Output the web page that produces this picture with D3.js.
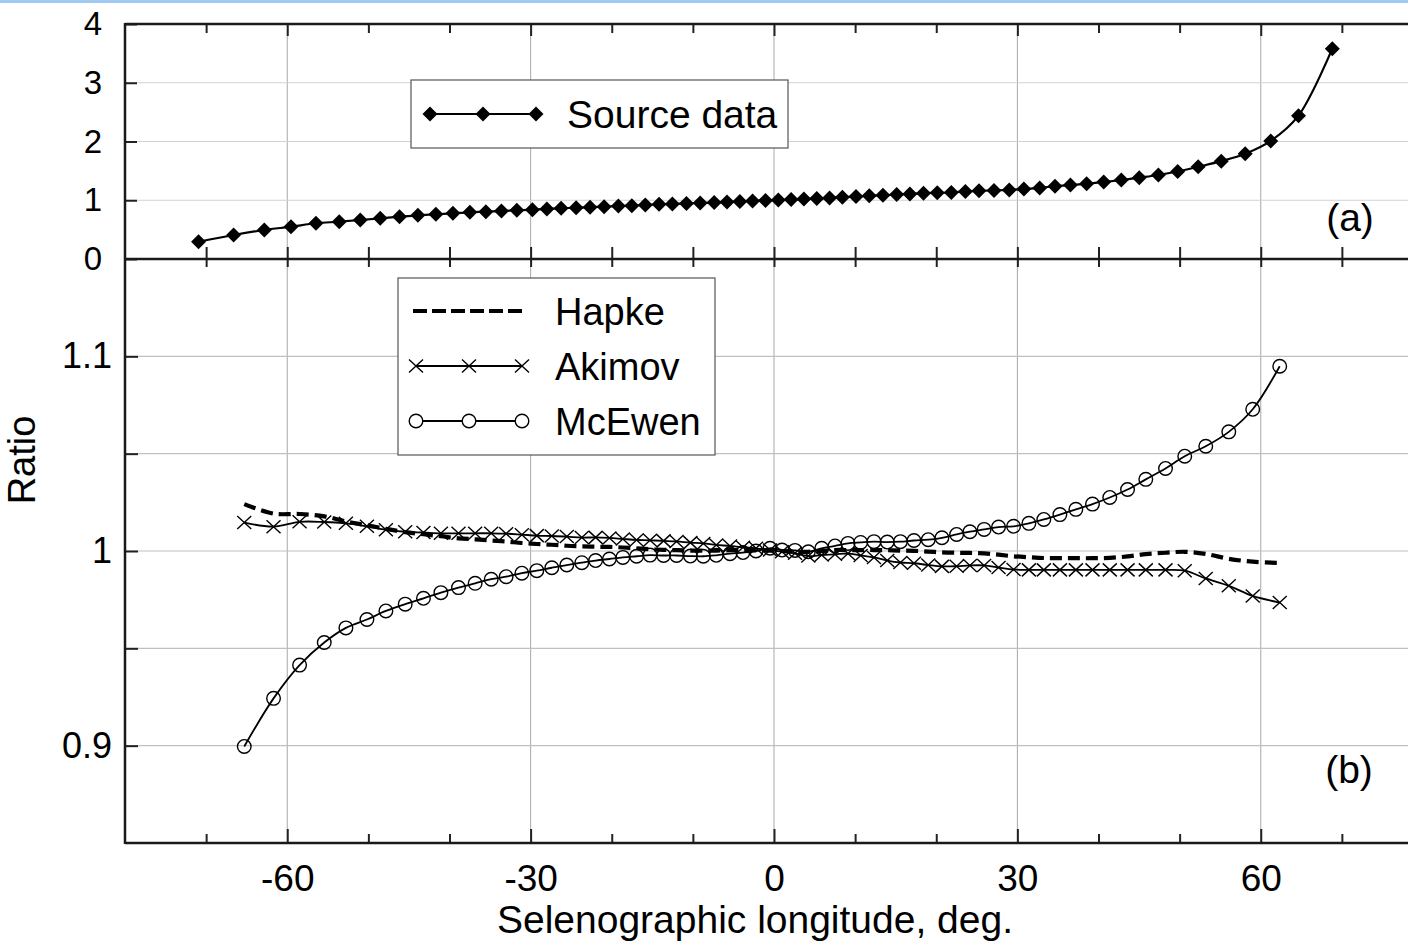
<!DOCTYPE html>
<html>
<head>
<meta charset="utf-8">
<script src="https://cdn.jsdelivr.net/npm/d3@7"></script>
<style>
  body { margin: 0; background: #fff; }
  svg text { font-family: "Liberation Sans", Arial, sans-serif; fill: #000; }
</style>
</head>
<body>
<div id="chart"></div>
<script>
// panel (a): source data
const lonA = [-70.93, -66.61, -62.83, -59.54, -56.46, -53.59, -51.0, -48.54, -46.16, -43.90,
    -41.68, -39.58, -37.49, -35.52, -33.60, -31.70, -29.78, -28.0, -26.24, -24.39,
    -22.67, -20.94, -19.18, -17.53, -15.86, -14.17, -12.53, -10.79, -9.10, -7.37,
    -5.79, -4.21, -2.64, -1.05, 0.53, 2.11, 3.68, 5.27, 6.85, 8.43,
    10.11, 11.74, 13.43, 15.12, 16.75, 18.43, 20.12, 21.86, 23.59, 25.27,
    27.12, 29.0, 30.8, 32.75, 34.64, 36.54, 38.54, 40.64, 42.81, 45.02,
    47.38, 49.76, 52.29, 55.13, 58.08, 61.23, 64.65, 68.82];
const sourceData = [0.294, 0.409, 0.494, 0.55, 0.608, 0.635, 0.664, 0.693, 0.72, 0.744,
    0.761, 0.778, 0.795, 0.805, 0.817, 0.829, 0.839, 0.851, 0.863, 0.873,
    0.88, 0.89, 0.902, 0.907, 0.919, 0.931, 0.936, 0.945, 0.952, 0.960,
    0.969, 0.979, 0.988, 0.996, 1.003, 1.012, 1.020, 1.029, 1.040, 1.052,
    1.063, 1.075, 1.086, 1.097, 1.108, 1.120, 1.126, 1.132, 1.149, 1.160,
    1.168, 1.175, 1.19, 1.21, 1.24, 1.26, 1.28, 1.31, 1.345, 1.385,
    1.43, 1.49, 1.57, 1.665, 1.79, 2.01, 2.44, 3.58];

// panel (b): ratios
const lonB = [-65.30, -61.69, -58.48, -55.44, -52.77, -50.18, -47.84, -45.46, -43.21, -41.06,
    -38.89, -36.84, -34.86, -33.02, -31.08, -29.24, -27.39, -25.54, -23.69, -21.99,
    -20.29, -18.63, -16.94, -15.28, -13.61, -12.01, -10.31, -8.71, -7.12, -5.42,
    -3.82, -2.22, -0.49, 0.99, 2.59, 4.23, 5.88, 7.52, 9.12, 10.68,
    12.32, 13.96, 15.58, 17.25, 19.01, 20.70, 22.51, 24.15, 25.90, 27.68,
    29.53, 31.42, 33.26, 35.24, 37.21, 39.26, 41.39, 43.58, 45.83, 48.26,
    50.63, 53.22, 56.06, 59.01, 62.34];
const mcewen = [0.8996, 0.9243, 0.9414, 0.9530, 0.9605, 0.9648, 0.9692, 0.9727, 0.9757, 0.9786,
    0.9812, 0.9834, 0.9855, 0.9868, 0.9886, 0.9899, 0.9914, 0.9928, 0.9940, 0.9951,
    0.9959, 0.9967, 0.9973, 0.9979, 0.9977, 0.9977, 0.9974, 0.9973, 0.9978, 0.9986,
    0.9992, 1.0000, 1.0014, 1.0005, 1.0003, 0.9996, 1.0014, 1.0026, 1.0039, 1.0044,
    1.0048, 1.0046, 1.0048, 1.0054, 1.0058, 1.0068, 1.0085, 1.0099, 1.0111, 1.0123,
    1.0127, 1.0142, 1.0162, 1.0187, 1.0214, 1.0241, 1.0275, 1.0316, 1.0368, 1.0424,
    1.0487, 1.0538, 1.0612, 1.0728, 1.0949];
const akimov = [1.0146, 1.0125, 1.0150, 1.0149, 1.0142, 1.0127, 1.0109, 1.0099, 1.0095, 1.0091,
    1.0091, 1.0091, 1.0091, 1.0089, 1.0084, 1.0079, 1.0077, 1.0074, 1.0069, 1.0070,
    1.0067, 1.0062, 1.0057, 1.0055, 1.0052, 1.0049, 1.0043, 1.0039, 1.0031, 1.0026,
    1.0019, 1.0014, 1.0005, 0.9996, 0.9988, 0.9974, 0.9979, 0.9983, 0.9987, 0.9977,
    0.9967, 0.9951, 0.9941, 0.9937, 0.9928, 0.9921, 0.9922, 0.9926, 0.9926, 0.9915,
    0.9905, 0.9903, 0.9903, 0.9903, 0.9903, 0.9903, 0.9903, 0.9903, 0.9903, 0.9903,
    0.9899, 0.9859, 0.9821, 0.9769, 0.9735];
const hapke = [1.0241, 1.0192, 1.0190, 1.0178, 1.0152, 1.0132, 1.0114, 1.0097, 1.0086, 1.0076,
    1.0065, 1.0060, 1.0054, 1.0049, 1.0041, 1.0036, 1.0032, 1.0027, 1.0024, 1.0022,
    1.0021, 1.0018, 1.0014, 1.0009, 1.0006, 1.0004, 1.0002, 1.0002, 1.0002, 1.0004,
    1.0005, 1.0003, 1.0002, 1.0000, 0.9996, 0.9996, 1.0000, 1.0005, 1.0005, 1.0005,
    1.0005, 1.0004, 1.0002, 1.0001, 0.9997, 0.9993, 0.9991, 0.9990, 0.9988, 0.9981,
    0.9973, 0.9968, 0.9964, 0.9963, 0.9963, 0.9963, 0.9965, 0.9972, 0.9984, 0.9991,
    0.9996, 0.9985, 0.9960, 0.9945, 0.9939];

// axes
const xMajor = [-60, -30, 0, 30, 60];
const xMinor = [-70, -50, -40, -20, -10, 10, 20, 40, 50, 70];
const yTopTicks = [0, 1, 2, 3, 4];
const yBotTicks = [0.9, 0.95, 1, 1.05, 1.1];
const yBotLabels = {0.9: "0.9", 1: "1", 1.1: "1.1"};

const width = 1408, height = 942;
const svg = d3.select("#chart").append("svg")
    .attr("width", width)
    .attr("height", height);

const plotLeft = 125, plotTop = 24, plotMid = 259, plotBottom = 843;
const x = d3.scaleLinear().domain([-80, 80]).range([plotLeft, 1423]);
const yTop = d3.scaleLinear().domain([0, 4]).range([plotMid, plotTop]);
const yBot = d3.scaleLinear().domain([0.85, 1.15]).range([plotBottom, plotMid]);

// light blue strip at the very top
svg.append("rect").attr("x", 0).attr("y", 0).attr("width", width).attr("height", 3)
    .attr("fill", "#9fcaf3");

// grid
const grid = svg.append("g");
grid.selectAll(".vg").data(xMajor).enter().append("line")
    .attr("x1", d => x(d)).attr("x2", d => x(d))
    .attr("y1", plotTop).attr("y2", plotBottom)
    .style("stroke", "#a8a8a8").style("stroke-width", 1);
grid.selectAll(".hgt").data([1, 2, 3]).enter().append("line")
    .attr("x1", plotLeft).attr("x2", width)
    .attr("y1", d => yTop(d)).attr("y2", d => yTop(d))
    .style("stroke", "#d2d2d2").style("stroke-width", 1.2);
grid.selectAll(".hgb").data(yBotTicks).enter().append("line")
    .attr("x1", plotLeft).attr("x2", width)
    .attr("y1", d => yBot(d)).attr("y2", d => yBot(d))
    .style("stroke", "#c0c0c0").style("stroke-width", 1.2);

// ticks via d3 axes
function styleAxis(g) {
    g.select(".domain").remove();
    g.selectAll(".tick line").style("stroke", "#222").style("stroke-width", 2);
    g.selectAll("text").style("font-family", '"Liberation Sans", Arial, sans-serif').style("fill", "#000");
}
// plain hyphen for negatives, like the original
const fmtInt = d => String(d);

// bottom axis
svg.append("g").attr("transform", `translate(0,${plotBottom})`)
    .call(d3.axisBottom(x).tickValues(xMinor).tickSizeInner(-9).tickSizeOuter(0).tickFormat(""))
    .call(styleAxis);
svg.append("g").attr("transform", `translate(0,${plotBottom})`)
    .call(d3.axisBottom(x).tickValues(xMajor).tickSizeInner(-14).tickSizeOuter(0).tickPadding(22).tickFormat(fmtInt))
    .call(styleAxis)
    .selectAll("text").style("font-size", "37px");

// top axis
svg.append("g").attr("transform", `translate(0,${plotTop})`)
    .call(d3.axisTop(x).tickValues(xMinor).tickSizeInner(-9).tickSizeOuter(0).tickFormat(""))
    .call(styleAxis);
svg.append("g").attr("transform", `translate(0,${plotTop})`)
    .call(d3.axisTop(x).tickValues(xMajor).tickSizeInner(-12).tickSizeOuter(0).tickFormat(""))
    .call(styleAxis);

// middle separator ticks (up into panel a, down into panel b)
svg.append("g").attr("transform", `translate(0,${plotMid})`)
    .call(d3.axisBottom(x).tickValues(xMajor.concat(xMinor)).tickSizeInner(-12).tickSizeOuter(0).tickFormat(""))
    .call(styleAxis);
svg.append("g").attr("transform", `translate(0,${plotMid})`)
    .call(d3.axisTop(x).tickValues(xMajor.concat(xMinor)).tickSizeInner(-8).tickSizeOuter(0).tickFormat(""))
    .call(styleAxis);

// left axes
svg.append("g").attr("transform", `translate(${plotLeft},0)`)
    .call(d3.axisLeft(yTop).tickValues(yTopTicks).tickSizeInner(-12).tickSizeOuter(0).tickPadding(23).tickFormat(fmtInt))
    .call(styleAxis)
    .selectAll("text").style("font-size", "33px");
svg.append("g").attr("transform", `translate(${plotLeft},0)`)
    .call(d3.axisLeft(yBot).tickValues(yBotTicks).tickSizeInner(-13).tickSizeOuter(0).tickPadding(13).tickFormat(d => yBotLabels[d] || ""))
    .call(styleAxis)
    .selectAll("text").style("font-size", "36px");

// frame
const frame = svg.append("g").style("stroke", "#1a1a1a").style("stroke-width", 2.5);
frame.append("line").attr("x1", plotLeft).attr("x2", plotLeft).attr("y1", plotTop - 1).attr("y2", plotBottom + 1);
frame.append("line").attr("x1", plotLeft).attr("x2", width).attr("y1", plotTop).attr("y2", plotTop);
frame.append("line").attr("x1", plotLeft).attr("x2", width).attr("y1", plotMid).attr("y2", plotMid);
frame.append("line").attr("x1", plotLeft).attr("x2", width).attr("y1", plotBottom).attr("y2", plotBottom);

// markers
const diamond = "M0,-7.5L7.5,0L0,7.5L-7.5,0Z";
const cross = "M-7,-6.5L7,6.5M-7,6.5L7,-6.5";

// panel (a) series
const ptsA = lonA.map((d, i) => [d, sourceData[i]]);
svg.append("path").datum(ptsA)
    .attr("d", d3.line().x(d => x(d[0])).y(d => yTop(d[1])).curve(d3.curveCatmullRom))
    .style("fill", "none").style("stroke", "#000").style("stroke-width", 2.2);
svg.selectAll(".diam").data(ptsA).enter().append("path")
    .attr("d", diamond)
    .attr("transform", d => `translate(${x(d[0])},${yTop(d[1])})`)
    .style("fill", "#000");

// panel (b) series
const lineB = d3.line().x(d => x(d[0])).y(d => yBot(d[1])).curve(d3.curveCatmullRom);
const ptsH = lonB.map((d, i) => [d, hapke[i]]);
const ptsAk = lonB.map((d, i) => [d, akimov[i]]);
const ptsM = lonB.map((d, i) => [d, mcewen[i]]);

svg.append("path").datum(ptsH).attr("d", lineB)
    .style("fill", "none").style("stroke", "#000").style("stroke-width", 4.2)
    .style("stroke-dasharray", "12,6");

svg.append("path").datum(ptsAk).attr("d", lineB)
    .style("fill", "none").style("stroke", "#000").style("stroke-width", 1.8);
svg.selectAll(".cross").data(ptsAk).enter().append("path")
    .attr("d", cross)
    .attr("transform", d => `translate(${x(d[0])},${yBot(d[1])})`)
    .style("fill", "none").style("stroke", "#000").style("stroke-width", 1.4);

svg.append("path").datum(ptsM).attr("d", lineB)
    .style("fill", "none").style("stroke", "#000").style("stroke-width", 1.8);
svg.selectAll(".circ").data(ptsM).enter().append("circle")
    .attr("cx", d => x(d[0])).attr("cy", d => yBot(d[1])).attr("r", 6.8)
    .style("fill", "none").style("stroke", "#000").style("stroke-width", 1.4);

// panel labels
svg.append("text").attr("x", 1350).attr("y", 231).attr("text-anchor", "middle")
    .style("font-size", "39px").text("(a)");
svg.append("text").attr("x", 1349).attr("y", 783).attr("text-anchor", "middle")
    .style("font-size", "39px").text("(b)");

// legend (a)
const legA = svg.append("g");
legA.append("rect").attr("x", 411).attr("y", 80).attr("width", 377).attr("height", 68)
    .style("fill", "#fff").style("stroke", "#555").style("stroke-width", 1.2);
legA.append("line").attr("x1", 430).attr("x2", 536).attr("y1", 114).attr("y2", 114)
    .style("stroke", "#000").style("stroke-width", 2.2);
legA.selectAll(".ld").data([430, 483, 536]).enter().append("path")
    .attr("d", diamond).attr("transform", d => `translate(${d},114)`).style("fill", "#000");
legA.append("text").attr("x", 567).attr("y", 128).style("font-size", "39px").text("Source data");

// legend (b)
const legB = svg.append("g");
legB.append("rect").attr("x", 398).attr("y", 278).attr("width", 317).attr("height", 177)
    .style("fill", "#fff").style("stroke", "#555").style("stroke-width", 1.2);
legB.append("line").attr("x1", 413).attr("x2", 526).attr("y1", 311).attr("y2", 311)
    .style("stroke", "#000").style("stroke-width", 4).style("stroke-dasharray", "14,5");
legB.append("line").attr("x1", 416).attr("x2", 522).attr("y1", 366).attr("y2", 366)
    .style("stroke", "#000").style("stroke-width", 1.8);
legB.selectAll(".lx").data([416, 469, 522]).enter().append("path")
    .attr("d", cross).attr("transform", d => `translate(${d},366)`)
    .style("fill", "none").style("stroke", "#000").style("stroke-width", 1.4);
legB.append("line").attr("x1", 416).attr("x2", 522).attr("y1", 421).attr("y2", 421)
    .style("stroke", "#000").style("stroke-width", 1.8);
legB.selectAll(".lc").data([416, 469, 522]).enter().append("circle")
    .attr("cx", d => d).attr("cy", 421).attr("r", 6.8)
    .style("fill", "#fff").style("stroke", "#000").style("stroke-width", 1.4);
legB.selectAll(".lt").data([["Hapke", 325], ["Akimov", 380], ["McEwen", 435]]).enter().append("text")
    .attr("x", 555).attr("y", d => d[1]).style("font-size", "38px").text(d => d[0]);

// axis titles
svg.append("text").attr("x", 755).attr("y", 933).attr("text-anchor", "middle")
    .style("font-size", "39px").text("Selenographic longitude, deg.");
svg.append("text").attr("transform", "translate(35,460) rotate(-90)").attr("text-anchor", "middle")
    .style("font-size", "38px").text("Ratio");
</script>
</body>
</html>
